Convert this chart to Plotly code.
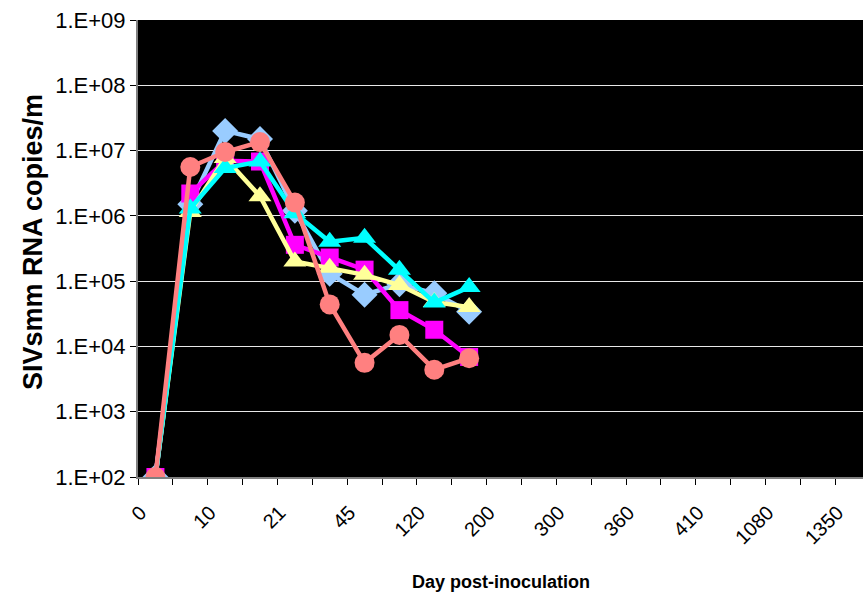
import plotly.graph_objects as go

# Day labels shown under every other category slot
tick_labels = ["0", "10", "21", "45", "120", "200", "300", "360", "410", "1080", "1350"]
n_slots = 21

# Sampling slots (category index) for each animal
sample_slot = [0, 1, 2, 3, 4, 5, 6, 7, 8, 9]

blue_diamond = [1.0e2, 1.5e6, 2.0e7, 1.5e7, 1.2e6, 1.3e5, 6.2e4, 9.0e4, 6.5e4, 3.4e4]
magenta_square = [1.0e2, 2.2e6, 7.0e6, 6.8e6, 3.6e5, 2.3e5, 1.5e5, 3.6e4, 1.8e4, 6.9e3]
yellow_triangle = [1.0e2, 1.15e6, 7.7e6, 2.0e6, 2.0e5, 1.6e5, 1.25e5, 8.7e4, 4.8e4, 4.0e4]
cyan_triangle = [1.0e2, 1.3e6, 5.4e6, 6.8e6, 1.1e6, 4.0e5, 4.6e5, 1.5e5, 4.7e4, 8.1e4]
salmon_circle = [1.0e2, 5.6e6, 9.5e6, 1.35e7, 1.6e6, 4.4e4, 5.6e3, 1.5e4, 4.4e3, 6.6e3]

y_tick_vals = [1e2, 1e3, 1e4, 1e5, 1e6, 1e7, 1e8, 1e9]
y_tick_text = ["1.E+02", "1.E+03", "1.E+04", "1.E+05", "1.E+06", "1.E+07", "1.E+08", "1.E+09"]

series = [
    (blue_diamond, "#99CCFF", "diamond", 20),
    (magenta_square, "#FF00FF", "square", 18),
    (yellow_triangle, "#FFFF99", "triangle-up", 20),
    (cyan_triangle, "#00FFFF", "triangle-up", 20),
    (salmon_circle, "#FF8080", "circle", 20),
]

fig = go.Figure()
for values, color, symbol, size in series:
    fig.add_trace(go.Scatter(
        x=sample_slot, y=values, mode="lines+markers",
        line=dict(color=color, width=4.5),
        marker=dict(color=color, symbol=symbol, size=size, line=dict(width=0)),
        showlegend=False,
    ))

font_family = "Arial, Liberation Sans, sans-serif"
# the last slot runs slightly past the right edge of the page
x_right = 20.5 - 7 / 34.85

fig.update_layout(
    width=863, height=595,
    margin=dict(l=138, r=0, t=20, b=118),
    paper_bgcolor="white",
    plot_bgcolor="black",
    font=dict(family=font_family, size=20, color="black"),
    xaxis=dict(
        range=[-0.5, x_right],
        tickvals=list(range(0, n_slots, 2)),
        ticktext=tick_labels,
        tickangle=-45,
        ticks="",
        ticklabelstandoff=14,
        ticklabelshift=-15,
        showgrid=False, zeroline=False,
        showline=True, linecolor="#808080", linewidth=2,
        minor=dict(tickvals=[i - 0.5 for i in range(n_slots + 1)],
                   ticks="outside", ticklen=6, tickcolor="black", tickwidth=1,
                   showgrid=False),
        tickfont=dict(size=20),
    ),
    yaxis=dict(
        type="log",
        range=[2, 9],
        tickvals=y_tick_vals,
        ticktext=y_tick_text,
        ticks="outside", ticklen=6, tickcolor="black",
        showgrid=True, gridcolor="#e8e8e8", gridwidth=1,
        zeroline=False,
        showline=True, linecolor="#808080", linewidth=2,
        tickfont=dict(size=22),
    ),
    annotations=[
        dict(text="<b>Day post-inoculation</b>", xref="paper", yref="paper",
             x=0.5, y=-0.229, xanchor="center", yanchor="middle",
             showarrow=False, font=dict(size=18)),
        dict(text="<b>SIVsmm RNA copies/m</b>", xref="paper", yref="paper",
             x=-0.1448, y=0.514, xanchor="center", yanchor="middle",
             textangle=-90, showarrow=False, font=dict(size=27)),
    ],
)

fig.write_html("out.html")
